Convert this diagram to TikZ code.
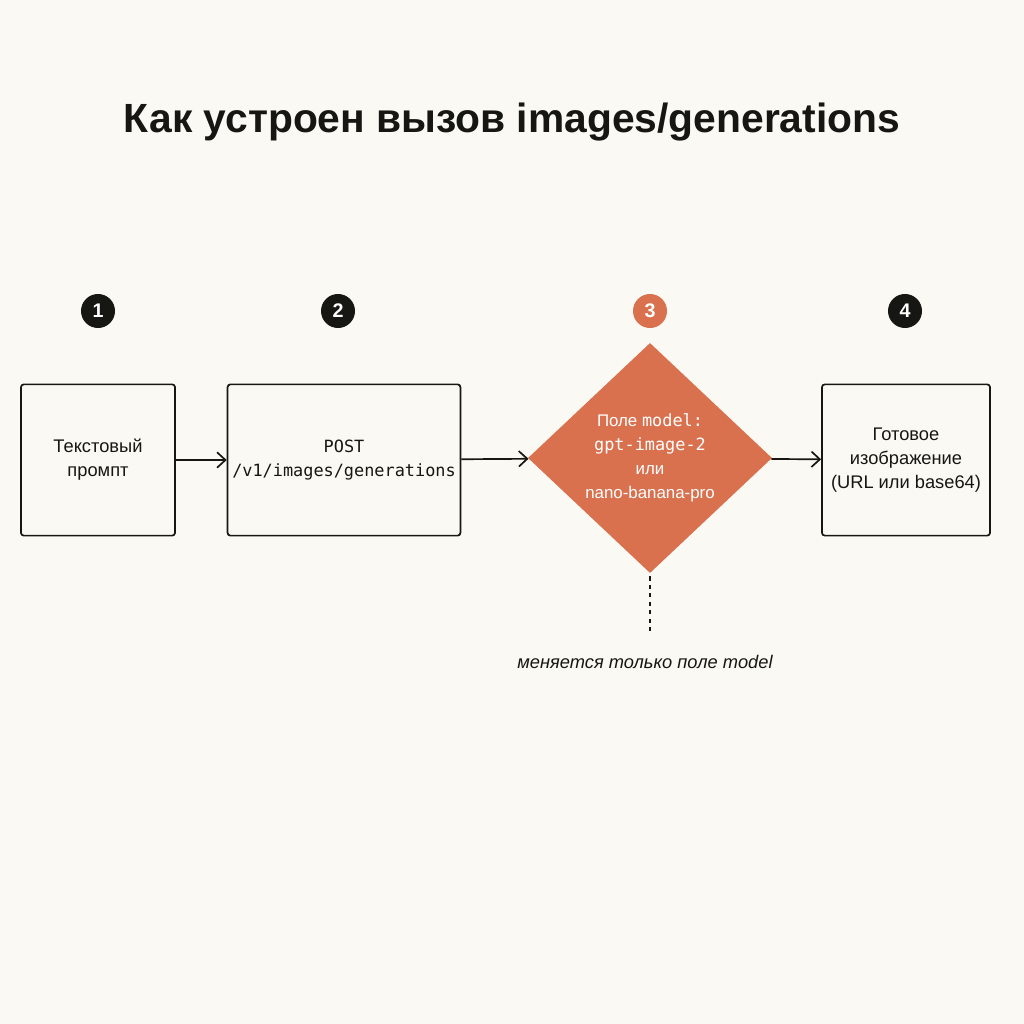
\documentclass[tikz,border=0pt]{standalone}
\usepackage{fontspec}
\setmainfont{Liberation Sans}
\setmonofont{DejaVu Sans Mono}
\usetikzlibrary{arrows.meta, shapes.geometric, positioning}
\definecolor{bg}{HTML}{FBF9F4}
\definecolor{accent}{HTML}{D9714F}
\definecolor{ink}{HTML}{161612}

\begin{document}
\begin{tikzpicture}[x=0.025cm,y=-0.025cm,
    stage/.style={rectangle, draw=ink, line width=1.2pt, rounded corners=2pt, align=center, font=\fontsize{13}{17}\selectfont, text=ink},
    num/.style={circle, fill=ink, text=white, minimum size=0.85cm, inner sep=0pt, font=\bfseries\fontsize{14}{14}\selectfont},
    flow/.style={-{Straight Barb[length=6pt,width=11pt]}, line width=1.2pt, draw=ink}]

        \fill[bg] (0,0) rectangle (1024,1024);
        \useasboundingbox (0,0) rectangle (1024,1024);

        \node[font=\bfseries\fontsize{29}{32}\selectfont, text=ink] (title) at (512,122) {Как устроен вызов images/generations};

        \node[num]               (n1) at (98,311)  {1};
        \node[num]               (n2) at (338,311) {2};
        \node[num, fill=accent]  (n3) at (650,311) {3};
        \node[num]               (n4) at (905,311) {4};

        \node[stage, minimum width=3.85cm, minimum height=3.78cm] (prompt)  at (98,460)  {Текстовый\\промпт};
        \node[stage, minimum width=5.65cm, minimum height=3.78cm, font=\ttfamily\fontsize{12}{17}\selectfont] (request) at (344,460) {POST\\/v1/images/generations};
        \node[diamond, fill=accent, minimum width=6.1cm, minimum height=5.75cm, inner sep=0pt, align=center, text=white, font=\fontsize{12}{17}\selectfont] (model) at (650,458)
            {Поле {\ttfamily model:}\\{\ttfamily gpt-image-2}\\или\\nano-banana-pro};
        \node[stage, minimum width=4.2cm, minimum height=3.78cm] (result) at (906,460) {Готовое\\изображение\\(URL или base64)};

        \draw[flow] (prompt) -- (request);
        \draw[flow] (request) -- (model);
        \draw[flow] (model) -- (result);

        \coordinate (note) at (650,632);
        \draw[ink, line width=1.2pt, dashed] (model.south) ++(0,3) -- (note);
        \node[font=\itshape\fontsize{13}{15}\selectfont, text=ink] (notetext) at (645,662) {меняется только поле model};
\end{tikzpicture}
\end{document}
